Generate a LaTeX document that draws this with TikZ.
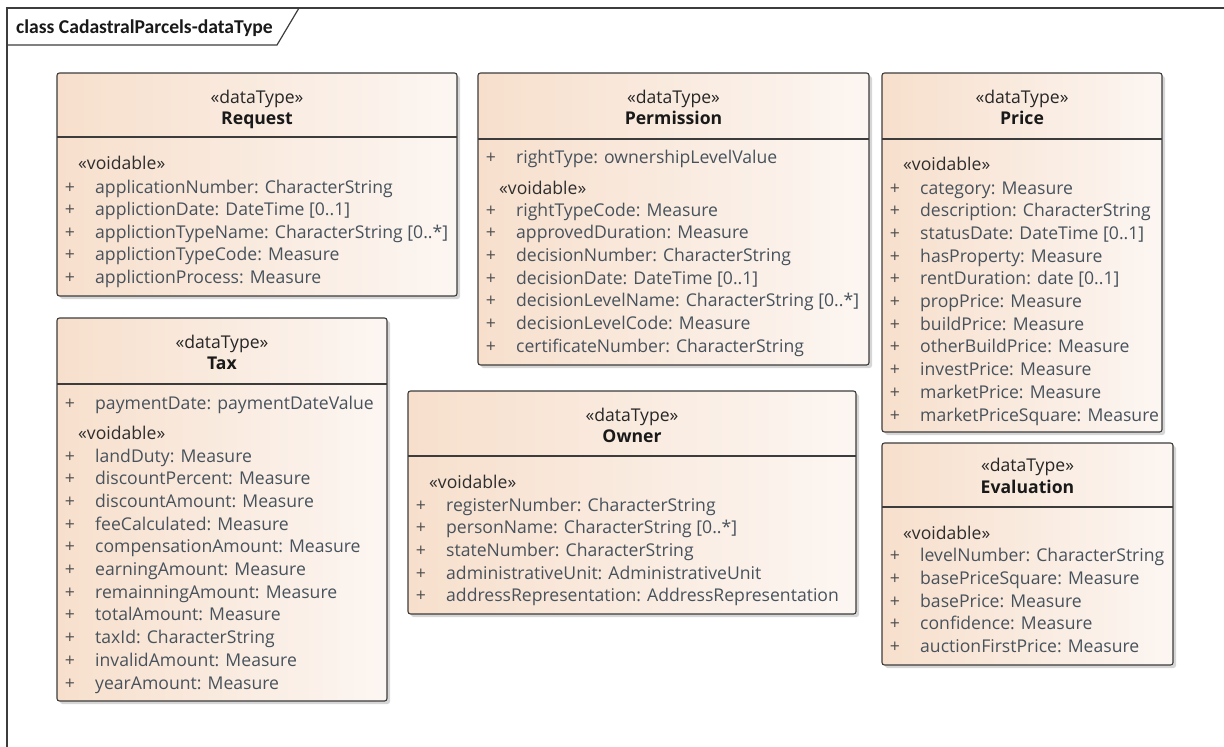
\documentclass[tikz,border=0pt]{standalone}
\usepackage{fontspec}
\setmainfont{Open Sans}
\newfontfamily\titlefont{Carlito}
\usetikzlibrary{shadows}
\definecolor{bordc}{HTML}{3C3C3C}
\definecolor{fillL}{HTML}{F7DFCC}
\definecolor{fillR}{HTML}{FCF6F2}
\definecolor{attrc}{HTML}{47525C}
\definecolor{plusc}{HTML}{505050}
\definecolor{sterc}{HTML}{2E2E2E}
\newcommand\attfont{\fontsize{17.6}{20}\selectfont}
\newcommand\attline[4]{%
  \node[plusst] (#1p) at (#2+13,#3) {+};
  \node[attr] (#1) at (#2+38,#3) {#4};}
\newcommand\voidline[3]{\node[ster] (#1) at (#2+21,#3) {«voidable»};}
\begin{document}
\begin{tikzpicture}[x=1pt,y=-1pt,
  dtbox/.style={draw=bordc, line width=1.1pt, rounded corners=2.5pt,
    left color=fillL, right color=fillR, anchor=north west, inner sep=0pt, outer sep=0pt,
    drop shadow={shadow xshift=3pt, shadow yshift=-3pt, fill=black!35, opacity=.45}},
  divline/.style={draw=bordc, line width=1.1pt},
  attr/.style={anchor=base west, inner sep=0pt, font=\attfont, text=attrc},
  plusst/.style={anchor=base, inner sep=0pt, font=\attfont, text=plusc},
  ster/.style={anchor=base west, inner sep=0pt, font=\attfont, text=sterc},
  hdst/.style={anchor=base, inner sep=0pt, font=\attfont, text=black!85},
  hdname/.style={anchor=base, inner sep=0pt, font=\attfont\bfseries, text=black!90},
  frameline/.style={draw=bordc, line width=1.2pt}]
\useasboundingbox[fill=white] (0,0) rectangle (1224,747);
% frame
\coordinate (fTL) at (7,8);
\coordinate (fTR) at (1224,8);
\coordinate (fBL) at (7,747);
\coordinate (tabB) at (7,45);
\coordinate (tabS) at (277,45);
\coordinate (tabT) at (299,8);
\draw[frameline] (fTR) -- (fTL) -- (fBL);
\draw[frameline] (tabB) -- (tabS) -- (tabT);
\node[anchor=base west, inner sep=0pt, font=\titlefont\bfseries\fontsize{19.6}{22}\selectfont, text=black!90] (title) at (16,33.5) {class CadastralParcels-dataType};

% ---------------- Request
\node[dtbox, minimum width=400pt, minimum height=223pt] (req) at (57,73) {};
\draw[divline] (req.west |- 0,137) -- (req.east |- 0,137);
\node[hdst] (reqS) at (257,103) {«dataType»};
\node[hdname] (reqN) at (257,124) {Request};
\voidline{reqV}{57}{169}
\attline{reqa}{57}{193}{applicationNumber: CharacterString}
\attline{reqb}{57}{215.5}{applictionDate: DateTime [0..1]}
\attline{reqc}{57}{238}{applictionTypeName: CharacterString [0..*]}
\attline{reqd}{57}{260.5}{applictionTypeCode: Measure}
\attline{reqe}{57}{283}{applictionProcess: Measure}

% ---------------- Permission
\node[dtbox, minimum width=391pt, minimum height=292pt] (perm) at (478,73) {};
\draw[divline] (perm.west |- 0,139) -- (perm.east |- 0,139);
\node[hdst] (permS) at (673.5,103) {«dataType»};
\node[hdname] (permN) at (673.5,124) {Permission};
\attline{perma}{478}{163}{rightType: ownershipLevelValue}
\voidline{permV}{478}{194}
\attline{permb}{478}{216}{rightTypeCode: Measure}
\attline{permc}{478}{238.7}{approvedDuration: Measure}
\attline{permd}{478}{261.4}{decisionNumber: CharacterString}
\attline{perme}{478}{284}{decisionDate: DateTime [0..1]}
\attline{permf}{478}{306.8}{decisionLevelName: CharacterString [0..*]}
\attline{permg}{478}{329.5}{decisionLevelCode: Measure}
\attline{permh}{478}{352.2}{certificateNumber: CharacterString}

% ---------------- Price
\node[dtbox, minimum width=280pt, minimum height=359pt] (price) at (882,73) {};
\draw[divline] (price.west |- 0,139) -- (price.east |- 0,139);
\node[hdst] (priceS) at (1022,103) {«dataType»};
\node[hdname] (priceN) at (1022,124) {Price};
\voidline{priceV}{882}{170}
\attline{pricea}{882}{194}{category: Measure}
\attline{priceb}{882}{216.7}{description: CharacterString}
\attline{pricec}{882}{239.4}{statusDate: DateTime [0..1]}
\attline{priced}{882}{262.1}{hasProperty: Measure}
\attline{pricee}{882}{284.8}{rentDuration: date [0..1]}
\attline{pricef}{882}{307.5}{propPrice: Measure}
\attline{priceg}{882}{330.2}{buildPrice: Measure}
\attline{priceh}{882}{352.9}{otherBuildPrice: Measure}
\attline{pricei}{882}{375.6}{investPrice: Measure}
\attline{pricej}{882}{398.3}{marketPrice: Measure}
\attline{pricek}{882}{421}{marketPriceSquare: Measure}

% ---------------- Tax
\node[dtbox, minimum width=330pt, minimum height=383pt] (tax) at (57,318) {};
\draw[divline] (tax.west |- 0,384) -- (tax.east |- 0,384);
\node[hdst] (taxS) at (222,348) {«dataType»};
\node[hdname] (taxN) at (222,369) {Tax};
\attline{taxa}{57}{409}{paymentDate: paymentDateValue}
\voidline{taxV}{57}{439}
\attline{taxb}{57}{462}{landDuty: Measure}
\attline{taxc}{57}{484.7}{discountPercent: Measure}
\attline{taxd}{57}{507.4}{discountAmount: Measure}
\attline{taxe}{57}{530.1}{feeCalculated: Measure}
\attline{taxf}{57}{552.8}{compensationAmount: Measure}
\attline{taxg}{57}{575.5}{earningAmount: Measure}
\attline{taxh}{57}{598.2}{remainningAmount: Measure}
\attline{taxi}{57}{620.9}{totalAmount: Measure}
\attline{taxj}{57}{643.6}{taxId: CharacterString}
\attline{taxk}{57}{666.3}{invalidAmount: Measure}
\attline{taxl}{57}{689}{yearAmount: Measure}

% ---------------- Owner
\node[dtbox, minimum width=448pt, minimum height=223pt] (own) at (408,391) {};
\draw[divline] (own.west |- 0,456) -- (own.east |- 0,456);
\node[hdst] (ownS) at (632,421) {«dataType»};
\node[hdname] (ownN) at (632,442) {Owner};
\voidline{ownV}{408}{488}
\attline{owna}{408}{511}{registerNumber: CharacterString}
\attline{ownb}{408}{533.7}{personName: CharacterString [0..*]}
\attline{ownc}{408}{556.4}{stateNumber: CharacterString}
\attline{ownd}{408}{579.1}{administrativeUnit: AdministrativeUnit}
\attline{owne}{408}{601.8}{addressRepresentation: AddressRepresentation}

% ---------------- Evaluation
\node[dtbox, minimum width=291pt, minimum height=222pt] (eval) at (882,443) {};
\draw[divline] (eval.west |- 0,507) -- (eval.east |- 0,507);
\node[hdst] (evalS) at (1027.5,471) {«dataType»};
\node[hdname] (evalN) at (1027.5,493) {Evaluation};
\voidline{evalV}{882}{539}
\attline{evala}{882}{561}{levelNumber: CharacterString}
\attline{evalb}{882}{584}{basePriceSquare: Measure}
\attline{evalc}{882}{607}{basePrice: Measure}
\attline{evald}{882}{629.5}{confidence: Measure}
\attline{evale}{882}{652.5}{auctionFirstPrice: Measure}
\end{tikzpicture}
\end{document}
